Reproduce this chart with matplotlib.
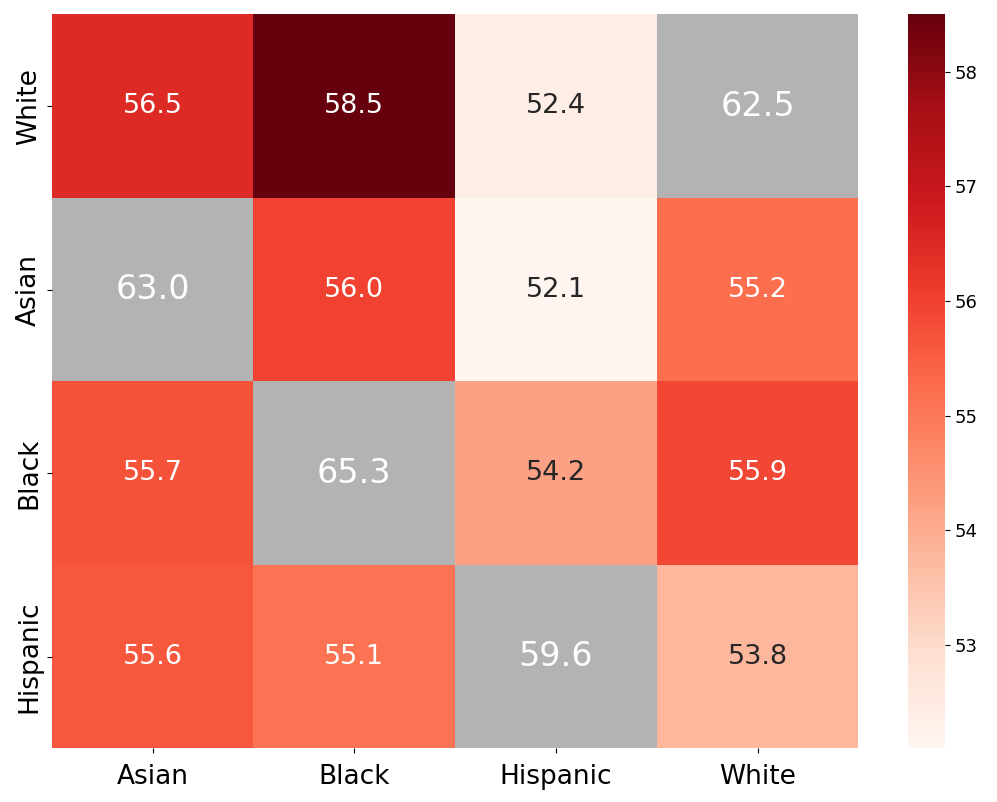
import numpy as np
import matplotlib
matplotlib.use("Agg")
import matplotlib.pyplot as plt
import seaborn as sns
from matplotlib.colors import ListedColormap

rows = ["White", "Asian", "Black", "Hispanic"]
cols = ["Asian", "Black", "Hispanic", "White"]
values = np.array([
    [56.5, 58.5, 52.4, 62.5],
    [63.0, 56.0, 52.1, 55.2],
    [55.7, 65.3, 54.2, 55.9],
    [55.6, 55.1, 59.6, 53.8],
])
diag_mask = np.array([[r == c for c in cols] for r in rows])

fig = plt.figure(figsize=(9.97, 8.02), dpi=100)
ax = fig.add_axes([0.052, 0.067, 0.809, 0.915])
cax = fig.add_axes([0.911, 0.067, 0.037, 0.915])

off = values[~diag_mask]
sns.heatmap(values, mask=diag_mask, cmap="Reds", vmin=off.min(), vmax=off.max(),
            annot=True, fmt=".1f", annot_kws={"fontsize": 19.5},
            ax=ax, cbar_ax=cax, xticklabels=cols, yticklabels=rows)
sns.heatmap(values, mask=~diag_mask, cmap=ListedColormap(["#b3b3b3"]), cbar=False,
            annot=True, fmt=".1f", annot_kws={"fontsize": 24, "color": "white"},
            ax=ax, xticklabels=cols, yticklabels=rows)

ax.tick_params(axis="both", labelsize=19)
ax.tick_params(axis="x", pad=8)
ax.set_yticklabels(rows, rotation=90, va="center")
ax.set_xticklabels(cols, rotation=0)
cax.tick_params(labelsize=13)
for s in cax.spines.values():
    s.set_visible(False)

fig.savefig("out.png", dpi=100)
